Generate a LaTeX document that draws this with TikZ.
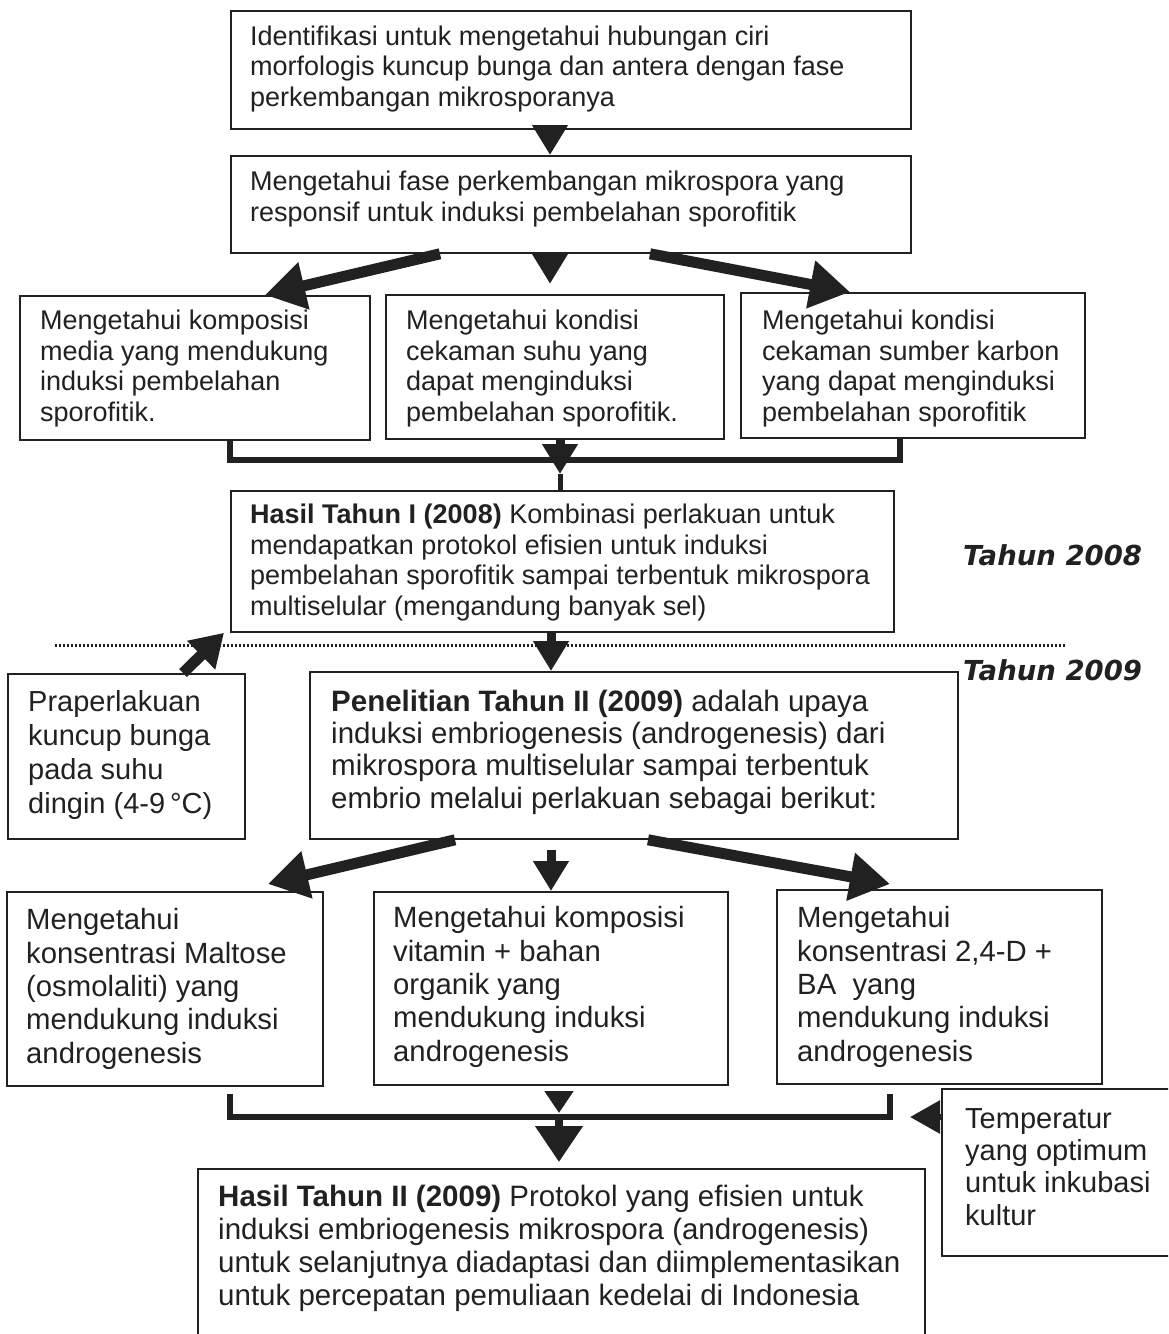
\documentclass[tikz,border=0pt]{standalone}
\usepackage{fontspec}
\setmainfont{Liberation Sans}
\newfontfamily\yearfont{DejaVu Sans}
\usetikzlibrary{arrows.meta,calc}
\definecolor{ink}{gray}{0.13}
\begin{document}
\begin{tikzpicture}[x=1pt,y=-1pt,
  box/.style={draw=ink, line width=1.8pt, fill=white, inner sep=0pt, anchor=north west},
  up/.style={font=\fontsize{27}{30.5}\selectfont, text=ink, align=left, anchor=base west, inner sep=0pt},
  lo/.style={font=\fontsize{29.3}{33.3}\selectfont, text=ink, align=left, anchor=base west, inner sep=0pt},
  yr/.style={font=\yearfont\fontsize{27.5}{31}\selectfont\bfseries\itshape, text=ink, anchor=base west, inner sep=0pt},
  fat/.style={draw=ink, line width=11pt, -{Triangle[length=40pt,width=46pt]}},
  mid/.style={draw=ink, line width=9pt, -{Triangle[length=30pt,width=34pt]}},
  brk/.style={draw=ink, line width=6.5pt},
  dots/.style={draw=ink, line width=3pt, dash pattern=on 1.6pt off 2.4pt}]
\useasboundingbox (0,0) rectangle (1168,1334);
\clip (0,0) rectangle (1168,1334);
\fill[white] (0,0) rectangle (1168,1334);

% helper coordinates
\coordinate (x550) at (550,0);
\coordinate (x551) at (551,0);
\coordinate (x560) at (560,0);
\coordinate (x559) at (559,0);
\coordinate (l1) at (230,460);
\coordinate (r1) at (900,460);
\coordinate (l2) at (230,1117);
\coordinate (r2) at (890,1117);

% boxes
\node[box, minimum width=680pt, minimum height=118pt] (b1) at (230,10) {};
\node[box, minimum width=680pt, minimum height=97pt] (b2) at (230,155) {};
\node[box, minimum width=350pt, minimum height=144pt] (A) at (19,295) {};
\node[box, minimum width=338pt, minimum height=144pt] (B) at (385,294) {};
\node[box, minimum width=344pt, minimum height=145pt] (C) at (740,292) {};
\node[box, minimum width=663pt, minimum height=141pt] (D) at (230,490) {};
\node[box, minimum width=237pt, minimum height=165pt] (P) at (7,673) {};
\node[box, minimum width=648pt, minimum height=167pt] (E) at (309,671) {};
\node[box, minimum width=316pt, minimum height=194pt] (F) at (6,891) {};
\node[box, minimum width=354pt, minimum height=193pt] (G) at (373,891) {};
\node[box, minimum width=325pt, minimum height=194pt] (H) at (776,889) {};
\node[box, minimum width=260pt, minimum height=167pt] (T) at (941,1088) {};
\node[box, minimum width=727pt, minimum height=200pt] (R) at (197,1168) {};

% texts (anchored at the baseline of their last line)
\node[up] (t1) at (250,106) {Identifikasi untuk mengetahui hubungan ciri\\morfologis kuncup bunga dan antera dengan fase\\perkembangan mikrosporanya};
\node[up] (t2) at (250,221) {Mengetahui fase perkembangan mikrospora yang\\responsif untuk induksi pembelahan sporofitik};
\node[up] (tA) at (40,421) {Mengetahui komposisi\\media yang mendukung\\induksi pembelahan\\sporofitik.};
\node[up] (tB) at (406,421) {Mengetahui kondisi\\cekaman suhu yang\\dapat menginduksi\\pembelahan sporofitik.};
\node[up] (tC) at (762,421) {Mengetahui kondisi\\cekaman sumber karbon\\yang dapat menginduksi\\pembelahan sporofitik};
\node[up] (tD) at (250,615) {\textbf{Hasil Tahun I (2008)} Kombinasi perlakuan untuk\\mendapatkan protokol efisien untuk induksi\\pembelahan sporofitik sampai terbentuk mikrospora\\multiselular (mengandung banyak sel)};
\node[yr] (y8) at (963,565) {Tahun 2008};
\node[yr] (y9) at (963,680) {Tahun 2009};
\node[lo, font=\fontsize{29}{33.7}\selectfont] (tP) at (28,813) {Praperlakuan\\kuncup bunga\\pada suhu\\dingin (4-9\,°C)};
\node[lo, font=\fontsize{29.5}{32.2}\selectfont] (tE) at (331,808) {\textbf{Penelitian Tahun II (2009)} adalah upaya\\induksi embriogenesis (androgenesis) dari\\mikrospora multiselular sampai terbentuk\\embrio melalui perlakuan sebagai berikut:};
\node[lo] (tF) at (26,1063) {Mengetahui\\konsentrasi Maltose\\(osmolaliti) yang\\mendukung induksi\\androgenesis};
\node[lo] (tG) at (393,1061) {Mengetahui komposisi\\vitamin + bahan\\organik yang\\mendukung induksi\\androgenesis};
\node[lo] (tH) at (797,1061) {Mengetahui\\konsentrasi 2,4-D +\\BA\ \ yang\\mendukung induksi\\androgenesis};
\node[lo, font=\fontsize{29}{32.3}\selectfont] (tT) at (965,1225) {Temperatur\\yang optimum\\untuk inkubasi\\kultur};
\node[lo, font=\fontsize{29.5}{32.7}\selectfont] (tR) at (218,1305) {\textbf{Hasil Tahun II (2009)} Protokol yang efisien untuk\\induksi embriogenesis mikrospora (androgenesis)\\untuk selanjutnya diadaptasi dan diimplementasikan\\untuk percepatan pemuliaan kedelai di Indonesia};

% dotted year separator
\draw[dots] (55,645) -- (1065,645);

% connectors
\draw[mid] (b1.south -| x550) -- (b2.north -| x550);
\draw[fat] ($(b2.south west)+(210,0)$) -- ($(A.north west)+(246,0)$);
\draw[mid] (b2.south -| x550) -- ++(0,30) coordinate (m1);
\draw[fat] ($(b2.south west)+(420,0)$) -- ($(C.north west)+(110,0)$);

\draw[brk] (A.south -| l1) -- (l1) -- (r1) -- (C.south -| r1);
\draw[mid] (B.south -| x560) -- (560,474) coordinate (m2);
\draw[draw=ink, line width=5pt] (m2) -- (D.north -| x560);

\draw[mid] (D.south -| x551) -- (E.north -| x551);
\draw[draw=ink, line width=11pt, -{Triangle[length=32pt,width=38pt]}] ($(P.north west)+(176,0)$) -- ($(D.south west)+(-6,0)$);

\draw[fat] ($(E.south west)+(146,0)$) -- ($(F.north west)+(262,-7)$);
\draw[mid] ($(E.south -| x551)+(0,10)$) -- (F.north -| x551);
\draw[fat] ($(E.south west)+(339,0)$) -- ($(H.north west)+(114,-5)$);

\draw[brk] ($(F.south -| l2)+(0,7)$) -- (l2) -- (r2) -- ($(H.south -| r2)+(0,9)$);
\draw[draw=ink, line width=5pt, -{Triangle[length=22pt,width=28pt]}] ($(G.south -| x559)+(0,5)$) -- (559,1113);
\draw[draw=ink, line width=8pt, -{Triangle[length=36pt,width=46pt]}] (l2 -| x559) -- ($(R.north -| x559)+(0,-6)$);
\draw[draw=ink, line width=6pt, -{Triangle[length=30pt,width=32pt]}] (T.west |- r2) -- (910,1117);
\end{tikzpicture}
\end{document}
